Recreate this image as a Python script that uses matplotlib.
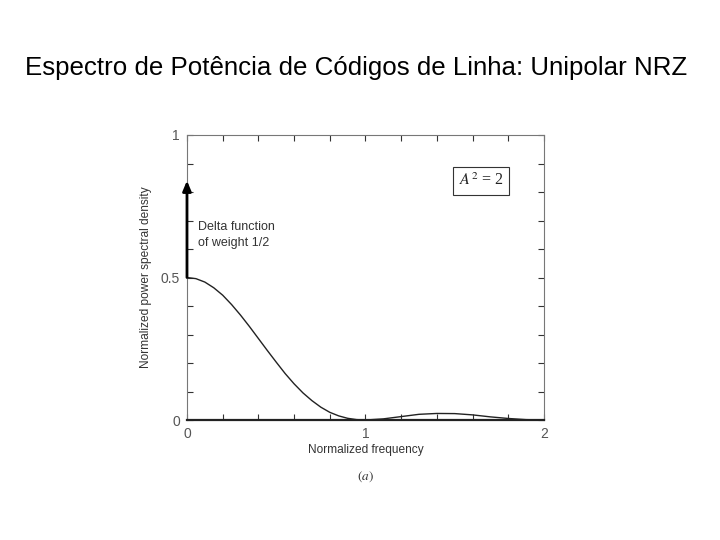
import matplotlib
matplotlib.use("Agg")
import matplotlib.pyplot as plt
from matplotlib.ticker import MultipleLocator, FixedLocator

# Values
freq = [0.0, 0.05, 0.1, 0.15, 0.2, 0.25, 0.3, 0.35, 0.4, 0.45, 0.5,
        0.55, 0.6, 0.65, 0.7, 0.75, 0.8, 0.85, 0.9, 0.95, 1.0,
        1.1, 1.2, 1.3, 1.4, 1.5, 1.6, 1.7, 1.8, 1.9, 2.0]
psd = [0.500, 0.496, 0.484, 0.464, 0.438, 0.405, 0.368, 0.328, 0.286, 0.244, 0.203,
       0.163, 0.127, 0.095, 0.068, 0.045, 0.027, 0.0145, 0.006, 0.0014, 0.0,
       0.004, 0.012, 0.020, 0.023, 0.0225, 0.018, 0.011, 0.0054, 0.0013, 0.0]
delta_base = 0.5
delta_top = 0.84

title = "Espectro de Potência de Códigos de Linha: Unipolar NRZ"
xticks = [0, 1, 2]
yticks = [0, 0.5, 1]
ytick_labels = ["0", "0.5", "1"]

plt.rcParams["font.family"] = ["Liberation Sans", "DejaVu Sans"]
plt.rcParams["mathtext.fontset"] = "stix"

fig = plt.figure(figsize=(7.2, 5.4), dpi=100)
ax = fig.add_axes([0.2597, 0.2222, 0.4958, 0.5278])

grey = "#555555"
ax.plot(freq, psd, color="#222222", lw=1.0)
ax.annotate("", xy=(0, delta_top), xytext=(0, delta_base),
            arrowprops=dict(arrowstyle="-|>,head_length=0.6,head_width=0.25",
                            color="black", lw=2.0,
                            mutation_scale=10, shrinkA=0, shrinkB=0),
            annotation_clip=False)
ax.text(0.062, 0.698, "Delta function\nof weight 1/2", fontsize=9,
        color="#333333", va="top", ha="left", linespacing=1.45)
ax.text(1.647, 0.839, "$A^2$ = 2", fontsize=11.5, ha="center", va="center",
        color="#222222", family="Liberation Serif",
        bbox=dict(boxstyle="square,pad=0.35", fc="white", ec="#333333", lw=0.8))

ax.set_xlim(0, 2)
ax.set_ylim(0, 1)
ax.xaxis.set_major_locator(FixedLocator(xticks))
ax.yaxis.set_major_locator(FixedLocator(yticks))
ax.set_yticklabels(ytick_labels)
ax.xaxis.set_minor_locator(MultipleLocator(0.2))
ax.yaxis.set_minor_locator(MultipleLocator(0.1))
ax.tick_params(which="both", direction="in", top=True, right=True,
               length=4, width=0.8, color="#333333",
               labelsize=10, labelcolor=grey, pad=5)

for side in ["top", "right", "left"]:
    ax.spines[side].set_color("#777777")
    ax.spines[side].set_linewidth(0.8)
ax.spines["bottom"].set_color("#222222")
ax.spines["bottom"].set_linewidth(1.6)

ax.set_xlabel("Normalized frequency", fontsize=8.6, color="#333333", labelpad=2)
ax.set_ylabel("Normalized power spectral density", fontsize=8.6,
              color="#333333", labelpad=6)
ax.text(0.5, -0.2, "$(a)$", transform=ax.transAxes, fontsize=9.5,
        ha="center", va="center", color="#333333")

fig.text(0.495, 1 - 68 / 540, title, fontsize=18.6, ha="center", va="center")

fig.savefig("out.png", dpi=100)
